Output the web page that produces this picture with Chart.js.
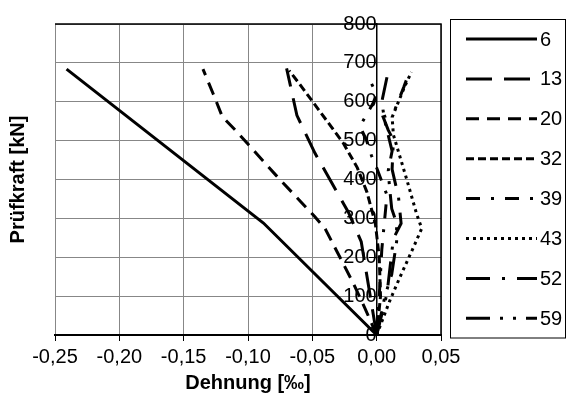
<!DOCTYPE html>
<html>
<head>
<meta charset="utf-8">
<script src="https://cdn.jsdelivr.net/npm/chart.js@4.4.1/dist/chart.umd.min.js"></script>
<style>
  html, body { margin: 0; padding: 0; background: #fff; }
  #wrap { width: 567px; height: 406px; }
</style>
</head>
<body>
<div id="wrap"><canvas id="chart" width="567" height="406"></canvas></div>
<script>
// Messstellen (legend labels)
const seriesNames = ['6', '13', '20', '32', '39', '43', '52', '59'];

// Dehnung [‰] and Prüfkraft [kN] per Messstelle
const strain6 = [0, -0.088, -0.241];
const load6 = [0, 288, 684];

const strain13 = [0, -0.006, -0.012, -0.022, -0.048, -0.062, -0.070];
const load13 = [0, 120, 240, 316, 468, 565, 686];

const strain20 = [0, -0.009, -0.018, -0.027, -0.040, -0.048, -0.078, -0.109, -0.120, -0.127, -0.135];
const load20 = [0, 68, 132, 190, 273, 304, 410, 524, 562, 620, 684];

const strain32 = [0, 0.003, 0.002, -0.001, -0.0075, -0.015, -0.026, -0.060, -0.068];
const load32 = [0, 100, 200, 286, 367, 430, 494, 646, 680];

const strain39 = [0, 0.002, 0.004, 0.008, 0.0, -0.004, -0.008, -0.013, -0.003, 0.0, -0.007];
const load39 = [0, 100, 220, 360, 430, 461, 502, 537, 595, 620, 666];

const strain43 = [0, 0.0103, 0.018, 0.0296, 0.035, 0.031, 0.0233, 0.0168, 0.013, 0.012, 0.022, 0.027];
const load43 = [0, 89, 148, 233, 274, 312, 401, 473, 515, 560, 641, 676];

const strain52 = [0, 0.008, 0.013, 0.019, 0.017, 0.012, 0.013, 0.009, 0.005, 0.013, 0.021, 0.023];
const load52 = [0, 106, 248, 287, 354, 426, 502, 527, 561, 570, 637, 655];

const strain59 = [0, 0.0065, 0.0117, 0.0155, 0.0155, 0.0117, 0.010, 0.009, 0.012, 0.006, 0.004, 0.008];
const load59 = [0, 101, 156, 240, 287, 325, 380, 423, 473, 555, 600, 663];

const strains = [strain6, strain13, strain20, strain32, strain39, strain43, strain52, strain59];
const loads = [load6, load13, load20, load32, load39, load43, load52, load59];

// Excel-like line styles
const dashes = [
  [],
  [26, 12],
  [13, 8],
  [8, 4],
  [14, 11, 3, 11],
  [3, 4],
  [24, 12, 3, 12],
  [24, 10, 3, 10, 3, 10]
];

const FONT = '"Liberation Sans", Arial, sans-serif';

const datasets = seriesNames.map((name, i) => ({
  label: name,
  data: strains[i].map((x, k) => ({ x: x, y: loads[i][k] })),
  borderColor: '#000',
  backgroundColor: '#000',
  borderWidth: 3,
  borderDash: dashes[i],
  borderCapStyle: 'butt',
  pointRadius: 0,
  tension: 0,
  fill: false
}));

// top/right frame, axis titles and the boxed legend
const decor = {
  id: 'decor',
  beforeDatasetsDraw(chart) {
    const { ctx, chartArea: a } = chart;
    ctx.save();
    ctx.strokeStyle = '#000';
    ctx.lineWidth = 1.5;
    ctx.beginPath();
    ctx.moveTo(a.left, a.top);
    ctx.lineTo(a.right, a.top);
    ctx.lineTo(a.right, a.bottom);
    ctx.stroke();
    ctx.restore();
  },
  afterDraw(chart) {
    const { ctx, chartArea: a } = chart;
    ctx.save();
    ctx.fillStyle = '#000';
    ctx.font = 'bold 20px ' + FONT;
    ctx.textAlign = 'center';
    ctx.textBaseline = 'middle';
    ctx.fillText('Dehnung [‰]', (a.left + a.right) / 2, 383);
    ctx.save();
    ctx.translate(18, (a.top + a.bottom) / 2);
    ctx.rotate(-Math.PI / 2);
    ctx.fillText('Prüfkraft [kN]', 0, 0);
    ctx.restore();

    // legend
    ctx.strokeStyle = '#000';
    ctx.lineWidth = 1;
    ctx.strokeRect(450.5, 19.5, 115, 318.5);
    ctx.font = '20px ' + FONT;
    ctx.textAlign = 'left';
    chart.data.datasets.forEach((ds, i) => {
      const y = 39 + i * 39.9;
      ctx.beginPath();
      ctx.setLineDash(ds.borderDash);
      ctx.lineWidth = ds.borderWidth;
      ctx.lineCap = 'butt';
      ctx.moveTo(466, y);
      ctx.lineTo(537, y);
      ctx.stroke();
      ctx.setLineDash([]);
      ctx.fillText(ds.label, 540, y + 1);
    });
    ctx.restore();
  }
};

new Chart(document.getElementById('chart'), {
  type: 'line',
  data: { datasets: datasets },
  plugins: [decor],
  options: {
    responsive: false,
    animation: false,
    layout: { padding: { left: 55, right: 126, top: 19, bottom: 0 } },
    plugins: {
      legend: { display: false },
      tooltip: { enabled: false }
    },
    scales: {
      x: {
        type: 'linear',
        position: 'bottom',
        min: -0.25,
        max: 0.05,
        afterFit(scale) { scale.height = 71; },
        ticks: {
          stepSize: 0.05,
          autoSkip: false,
          maxRotation: 0,
          padding: 4,
          color: '#000',
          font: { family: FONT, size: 20 },
          callback: (v) => (Math.abs(v) < 1e-9 ? 0 : v).toFixed(2).replace('.', ',')
        },
        grid: { color: '#878787', lineWidth: 1, tickLength: 6, tickColor: '#000' },
        border: { color: '#000', width: 2 }
      },
      y: {
        type: 'linear',
        position: { x: 0 },
        min: 0,
        max: 800,
        ticks: {
          stepSize: 100,
          padding: 12,
          color: '#000',
          font: { family: FONT, size: 20 }
        },
        grid: { color: '#878787', lineWidth: 1, tickLength: 7, tickColor: '#000' },
        border: { color: '#000', width: 1.5 }
      }
    }
  }
});
</script>
</body>
</html>
